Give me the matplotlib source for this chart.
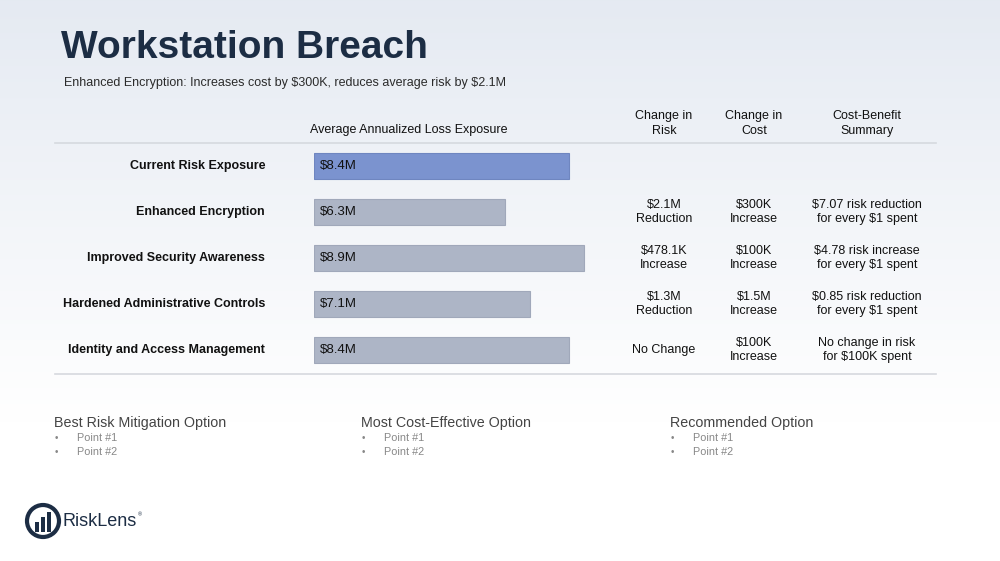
import numpy as np
import matplotlib
matplotlib.use("Agg")
import matplotlib.pyplot as plt
from matplotlib.patches import Circle, Rectangle

plt.rcParams['font.family'] = ['Liberation Sans', 'DejaVu Sans']

# ---------------- data ----------------
title = "Workstation Breach"
subtitle = "Enhanced Encryption: Increases cost by $300K, reduces average risk by $2.1M"
options = ["Current Risk Exposure", "Enhanced Encryption", "Improved Security Awareness",
           "Hardened Administrative Controls", "Identity and Access Management"]
loss_exposure = [8.4, 6.3, 8.9, 7.1, 8.4]   # $M
loss_labels = ["$8.4M", "$6.3M", "$8.9M", "$7.1M", "$8.4M"]
change_risk = ["", "$2.1M\nReduction", "$478.1K\nIncrease", "$1.3M\nReduction", "No Change"]
change_cost = ["", "$300K\nIncrease", "$100K\nIncrease", "$1.5M\nIncrease", "$100K\nIncrease"]
summary = ["", "$7.07 risk reduction\nfor every $1 spent", "$4.78 risk increase\nfor every $1 spent",
           "$0.85 risk reduction\nfor every $1 spent", "No change in risk\nfor $100K spent"]
headers = ["Average Annualized Loss Exposure", "Change in\nRisk", "Change in\nCost", "Cost-Benefit\nSummary"]
sections = ["Best Risk Mitigation Option", "Most Cost-Effective Option", "Recommended Option"]
points = ["Point #1", "Point #2"]

W, H = 1000, 561
fig = plt.figure(figsize=(10, 5.61), dpi=100)

# background gradient
bg = fig.add_axes([0, 0, 1, 1])
bg.set_xlim(0, W)
bg.set_ylim(H, 0)
bg.axis('off')
grad = np.linspace(0, 1, 256).reshape(-1, 1)
top = np.array([0.898, 0.918, 0.949])
bot = np.array([1.0, 1.0, 1.0])
t = np.clip(grad / 0.75, 0, 1)
img = top * (1 - t) + bot * t
bg.imshow(img.reshape(256, 1, 3), extent=[0, W, H, 0], aspect='auto', zorder=0)

dark = '#1c2d44'
txt = '#111111'
fs = 9.0

bg.text(61, 48, title, fontsize=28, fontweight='bold', color=dark, va='center', ha='left',
        zorder=2, parse_math=False)
bg.text(64, 83, subtitle, fontsize=9.0, color='#2b2b2b', va='center', ha='left', zorder=2,
        parse_math=False)

# header lines
bg.plot([55, 936], [142.5, 142.5], color='#d6d9de', lw=1.2, zorder=2)
bg.plot([55, 936], [373.5, 373.5], color='#d6d9de', lw=1.2, zorder=2)

# headers
bg.text(409, 130, headers[0], fontsize=fs, color=txt, ha='center', va='center', zorder=2)
col_x = [664, 754, 867]
for cx, h in zip(col_x, headers[1:]):
    bg.text(cx, 123.5, h, fontsize=fs, color=txt, ha='center', va='center', linespacing=1.3, zorder=2)

# bar axes
x0, scale = 314, 30.36
row_top, row_h = 143, 46
ax = fig.add_axes([x0 / W, 1 - (row_top + 5 * row_h) / H, 10 * scale / W, 5 * row_h / H])
ax.set_xlim(0, 10)
ax.set_ylim(4.5, -0.5)
ax.axis('off')
ax.patch.set_alpha(0)
colors = ['#7b93cf'] + ['#adb5c6'] * 4
edges = ['#6f86c0'] + ['#a0a8ba'] * 4
y = np.arange(len(options))
ax.barh(y, loss_exposure, height=0.565, color=colors, edgecolor=edges, linewidth=0.8)
for yi, lab in zip(y, loss_labels):
    ax.text(0.2, yi, lab, fontsize=9.5, color=txt, va='center', ha='left', parse_math=False)

for i, name in enumerate(options):
    yc = row_top + row_h * (i + 0.5)
    bg.text(265, yc, name, fontsize=fs, fontweight='bold', color=txt, ha='right', va='center', zorder=2)
    for cx, col in zip(col_x, [change_risk, change_cost, summary]):
        if col[i]:
            bg.text(cx, yc, col[i], fontsize=fs, color=txt, ha='center', va='center',
                    linespacing=1.3, zorder=2, parse_math=False)

# bottom sections
sec_x = [54, 361, 670]
for sx, s in zip(sec_x, sections):
    bg.text(sx, 423, s, fontsize=10.3, color='#444444', ha='left', va='center', zorder=2)
    for j, p in enumerate(points):
        yy = 438 + 13.5 * j
        bg.text(sx + 1, yy, "•", fontsize=7, color='#888888', ha='left', va='center', zorder=2)
        bg.text(sx + 23, yy, p, fontsize=7.8, color='#888888', ha='left', va='center', zorder=2)

# logo
bg.add_patch(Circle((43, 521), 16, facecolor='none', edgecolor=dark, lw=3.0, zorder=3))
for bx, bh in [(34.5, 10), (40.5, 15), (46.5, 20)]:
    bg.add_patch(Rectangle((bx, 532 - bh), 4, bh, facecolor=dark, edgecolor='none', zorder=3))
bg.text(63, 521, "RiskLens", fontsize=13, color=dark, ha='left', va='center', zorder=3)
bg.text(137.5, 515, "®", fontsize=4, color=dark, ha='left', va='center', zorder=3)

fig.savefig("out.png", dpi=100)
